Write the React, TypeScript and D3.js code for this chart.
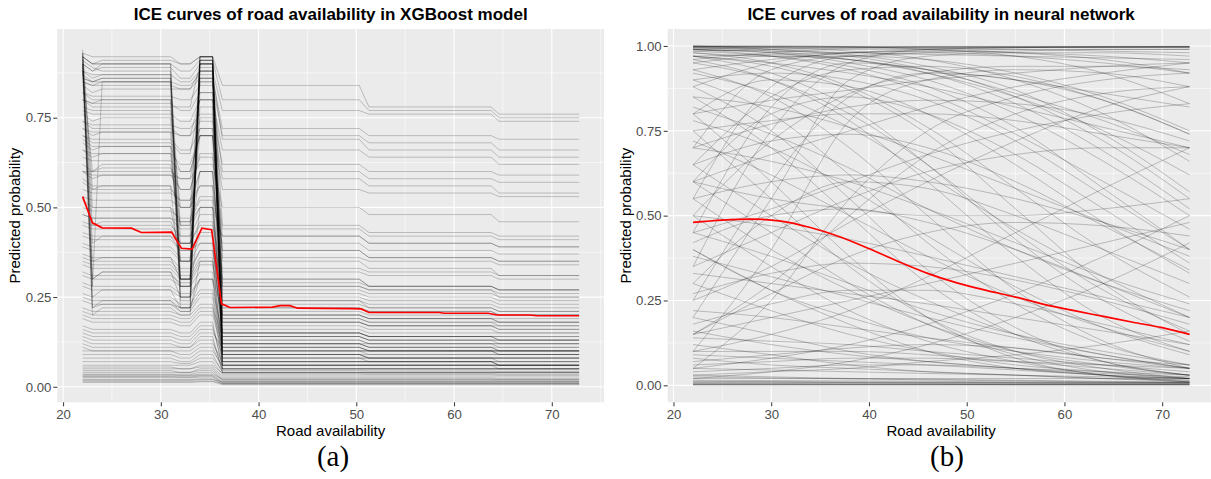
import React, { useEffect, useRef } from 'react';
import * as d3 from 'd3';

const W = 1211;
const H = 479;

// ---- panel (a): XGBoost ICE curves ----
// x positions where the step curves change, and which value column holds there
const xgbBreaks = [22, 23, 24, 31, 32, 33, 34, 35.3, 36.3, 50.3, 51.3, 63.8, 64.6, 72.8];
const xgbColumn = [0, 1, 2, 2, 3, 3, 4, 4, 5, 5, 6, 6, 7, 7];

// each row: [at 22, at 23, 24-31, 32-33, 34-35.3, 36.3-50.3, 51.3-63.8, 64.6-72.8]
const xgbCurves = [
  [0.93, 0.25, 0.27, 0.22, 0.9, 0.12, 0.11, 0.1],
  [0.91, 0.35, 0.36, 0.3, 0.88, 0.2, 0.19, 0.18],
  [0.92, 0.2, 0.22, 0.2, 0.91, 0.08, 0.07, 0.07],
  [0.9, 0.45, 0.46, 0.4, 0.6, 0.3, 0.28, 0.27],
  [0.89, 0.3, 0.32, 0.25, 0.5, 0.15, 0.14, 0.13],
  [0.94, 0.55, 0.56, 0.3, 0.92, 0.25, 0.24, 0.23],
  [0.92, 0.22, 0.24, 0.21, 0.35, 0.1, 0.09, 0.09],
  [0.88, 0.6, 0.62, 0.45, 0.7, 0.38, 0.36, 0.35],
  [0.93, 0.28, 0.85, 0.25, 0.92, 0.06, 0.06, 0.05],
  [0.9, 0.4, 0.42, 0.38, 0.4, 0.18, 0.17, 0.16],
  [0.9, 0.88, 0.9, 0.25, 0.92, 0.07, 0.07, 0.06],
  [0.88, 0.86, 0.87, 0.3, 0.9, 0.1, 0.1, 0.09],
  [0.85, 0.84, 0.85, 0.22, 0.89, 0.05, 0.05, 0.05],
  [0.82, 0.8, 0.8, 0.35, 0.88, 0.14, 0.13, 0.12],
  [0.8, 0.78, 0.78, 0.78, 0.9, 0.2, 0.19, 0.18],
  [0.76, 0.74, 0.75, 0.3, 0.85, 0.09, 0.08, 0.08],
  [0.92, 0.9, 0.91, 0.9, 0.92, 0.28, 0.27, 0.25],
  [0.72, 0.7, 0.71, 0.28, 0.82, 0.12, 0.11, 0.1],
  [0.7, 0.68, 0.68, 0.65, 0.8, 0.24, 0.22, 0.21],
  [0.86, 0.85, 0.86, 0.45, 0.91, 0.35, 0.33, 0.31],
  [0.66, 0.64, 0.65, 0.4, 0.75, 0.17, 0.16, 0.15],
  [0.62, 0.6, 0.6, 0.58, 0.72, 0.3, 0.28, 0.27],
  [0.9, 0.88, 0.89, 0.86, 0.9, 0.45, 0.43, 0.42],
  [0.78, 0.77, 0.77, 0.5, 0.86, 0.04, 0.04, 0.04],
  [0.58, 0.56, 0.56, 0.5, 0.6, 0.22, 0.21, 0.2],
  [0.55, 0.54, 0.54, 0.52, 0.56, 0.33, 0.32, 0.31],
  [0.52, 0.5, 0.5, 0.46, 0.52, 0.15, 0.14, 0.14],
  [0.48, 0.47, 0.47, 0.44, 0.5, 0.26, 0.25, 0.24],
  [0.45, 0.44, 0.44, 0.4, 0.46, 0.19, 0.18, 0.17],
  [0.42, 0.41, 0.41, 0.38, 0.43, 0.11, 0.1, 0.1],
  [0.4, 0.39, 0.39, 0.36, 0.42, 0.29, 0.28, 0.27],
  [0.37, 0.36, 0.36, 0.33, 0.38, 0.16, 0.15, 0.15],
  [0.34, 0.33, 0.33, 0.3, 0.35, 0.2, 0.19, 0.19],
  [0.31, 0.3, 0.3, 0.28, 0.32, 0.08, 0.08, 0.07],
  [0.28, 0.27, 0.27, 0.25, 0.3, 0.13, 0.12, 0.12],
  [0.25, 0.24, 0.24, 0.22, 0.26, 0.1, 0.1, 0.09],
  [0.22, 0.21, 0.21, 0.2, 0.23, 0.06, 0.06, 0.06],
  [0.2, 0.19, 0.19, 0.18, 0.21, 0.12, 0.11, 0.11],
  [0.17, 0.16, 0.16, 0.15, 0.18, 0.05, 0.05, 0.05],
  [0.15, 0.14, 0.14, 0.13, 0.16, 0.09, 0.08, 0.08],
  [0.13, 0.12, 0.12, 0.11, 0.14, 0.04, 0.04, 0.04],
  [0.11, 0.1, 0.1, 0.1, 0.12, 0.07, 0.07, 0.06],
  [0.6, 0.6, 0.61, 0.55, 0.65, 0.42, 0.4, 0.39],
  [0.68, 0.66, 0.67, 0.6, 0.7, 0.36, 0.35, 0.34],
  [0.5, 0.49, 0.49, 0.47, 0.53, 0.4, 0.38, 0.37],
  [0.36, 0.35, 0.35, 0.32, 0.38, 0.24, 0.23, 0.22],
  [0.08, 0.08, 0.08, 0.07, 0.09, 0.04, 0.04, 0.04],
  [0.06, 0.06, 0.06, 0.06, 0.07, 0.035, 0.034, 0.033],
  [0.05, 0.05, 0.05, 0.05, 0.055, 0.03, 0.03, 0.03],
  [0.045, 0.045, 0.045, 0.04, 0.05, 0.025, 0.025, 0.024],
  [0.04, 0.04, 0.04, 0.04, 0.045, 0.02, 0.02, 0.02],
  [0.035, 0.035, 0.035, 0.035, 0.04, 0.018, 0.018, 0.017],
  [0.03, 0.03, 0.03, 0.03, 0.032, 0.015, 0.015, 0.015],
  [0.028, 0.028, 0.028, 0.027, 0.03, 0.012, 0.012, 0.012],
  [0.025, 0.025, 0.025, 0.025, 0.027, 0.01, 0.01, 0.01],
  [0.02, 0.02, 0.02, 0.02, 0.022, 0.008, 0.008, 0.008],
  [0.012, 0.012, 0.012, 0.012, 0.014, 0.006, 0.006, 0.006],
  [0.1, 0.1, 0.1, 0.09, 0.11, 0.05, 0.05, 0.05],
  [0.93, 0.92, 0.92, 0.9, 0.92, 0.84, 0.78, 0.76],
  [0.92, 0.9, 0.9, 0.88, 0.91, 0.8, 0.77, 0.75],
  [0.88, 0.87, 0.87, 0.85, 0.88, 0.77, 0.76, 0.74],
  [0.85, 0.84, 0.84, 0.83, 0.86, 0.72, 0.7, 0.69],
  [0.82, 0.81, 0.81, 0.8, 0.84, 0.7, 0.68, 0.66],
  [0.74, 0.73, 0.73, 0.72, 0.76, 0.62, 0.6, 0.59],
  [0.7, 0.69, 0.69, 0.66, 0.72, 0.55, 0.54, 0.53],
  [0.8, 0.79, 0.79, 0.77, 0.82, 0.6, 0.58, 0.57],
  [0.6, 0.59, 0.59, 0.58, 0.62, 0.5, 0.48, 0.46],
  [0.92, 0.9, 0.9, 0.3, 0.92, 0.15, 0.14, 0.13],
  [0.91, 0.89, 0.88, 0.24, 0.91, 0.09, 0.08, 0.08],
  [0.87, 0.85, 0.86, 0.28, 0.9, 0.06, 0.06, 0.06],
  [0.84, 0.82, 0.83, 0.83, 0.88, 0.18, 0.17, 0.16],
  [0.9, 0.3, 0.32, 0.28, 0.9, 0.11, 0.1, 0.1],
  [0.93, 0.5, 0.5, 0.35, 0.85, 0.22, 0.21, 0.2],
  [0.88, 0.22, 0.23, 0.22, 0.3, 0.07, 0.07, 0.06],
  [0.8, 0.79, 0.8, 0.42, 0.86, 0.27, 0.26, 0.25],
  [0.74, 0.72, 0.72, 0.7, 0.8, 0.13, 0.12, 0.12],
  [0.69, 0.67, 0.67, 0.35, 0.78, 0.19, 0.18, 0.18],
  [0.64, 0.63, 0.63, 0.6, 0.7, 0.08, 0.08, 0.08],
  [0.57, 0.55, 0.55, 0.52, 0.6, 0.28, 0.27, 0.26],
  [0.53, 0.52, 0.52, 0.5, 0.56, 0.12, 0.12, 0.11],
  [0.46, 0.45, 0.45, 0.42, 0.48, 0.23, 0.22, 0.21],
  [0.43, 0.42, 0.42, 0.4, 0.45, 0.32, 0.31, 0.3],
  [0.39, 0.38, 0.38, 0.35, 0.4, 0.14, 0.13, 0.13],
  [0.35, 0.34, 0.34, 0.31, 0.36, 0.09, 0.09, 0.09],
  [0.32, 0.31, 0.31, 0.29, 0.34, 0.18, 0.17, 0.17],
  [0.29, 0.28, 0.28, 0.26, 0.3, 0.21, 0.2, 0.2],
  [0.26, 0.25, 0.25, 0.23, 0.27, 0.15, 0.14, 0.14],
  [0.24, 0.23, 0.23, 0.21, 0.25, 0.07, 0.07, 0.07],
  [0.21, 0.2, 0.2, 0.19, 0.22, 0.14, 0.13, 0.13],
  [0.19, 0.18, 0.18, 0.17, 0.2, 0.1, 0.1, 0.1],
  [0.16, 0.15, 0.15, 0.14, 0.17, 0.06, 0.06, 0.06],
  [0.14, 0.13, 0.13, 0.12, 0.15, 0.11, 0.1, 0.1],
  [0.12, 0.11, 0.11, 0.11, 0.13, 0.05, 0.05, 0.05],
  [0.09, 0.09, 0.09, 0.08, 0.1, 0.06, 0.06, 0.06],
  [0.07, 0.07, 0.07, 0.065, 0.08, 0.045, 0.044, 0.043],
  [0.055, 0.055, 0.055, 0.05, 0.06, 0.038, 0.037, 0.036],
  [0.033, 0.033, 0.033, 0.032, 0.035, 0.022, 0.022, 0.021],
  [0.018, 0.018, 0.018, 0.018, 0.02, 0.014, 0.014, 0.014],
  [0.015, 0.015, 0.015, 0.015, 0.016, 0.009, 0.009, 0.009],
  [0.6, 0.58, 0.59, 0.55, 0.64, 0.38, 0.36, 0.35],
  [0.66, 0.65, 0.65, 0.62, 0.7, 0.44, 0.42, 0.41],
  [0.77, 0.76, 0.76, 0.74, 0.8, 0.66, 0.64, 0.62],
  [0.86, 0.85, 0.85, 0.84, 0.87, 0.69, 0.66, 0.64],
  [0.48, 0.47, 0.47, 0.46, 0.5, 0.42, 0.4, 0.39],
  [0.72, 0.71, 0.71, 0.7, 0.74, 0.58, 0.56, 0.54],
];

// red average curve, panel (a)
const xgbMeanX = [22, 23, 24, 27, 28, 31.1, 32.1, 33.2, 34.2, 35.2, 36.2, 37.1, 41.4, 42.2, 43.2, 44, 49.6, 50.5, 51.3, 58.5, 59, 63.5, 64.4, 67.7, 68.5, 72.8];
const xgbMeanY = [0.53, 0.457, 0.443, 0.442, 0.43, 0.431, 0.386, 0.384, 0.442, 0.438, 0.231, 0.221, 0.222, 0.226, 0.226, 0.219, 0.218, 0.217, 0.207, 0.207, 0.205, 0.205, 0.2, 0.2, 0.198, 0.198];

// ---- panel (b): neural network ICE curves ----
const nnGrid = [22, 30, 38, 46, 55, 64, 72.8];
const nnCurves = [
  [0.998, 0.998, 0.997, 0.997, 0.996, 0.996, 0.995],
  [0.995, 0.996, 0.997, 0.998, 0.998, 0.998, 0.998],
  [0.99, 0.985, 0.98, 0.975, 0.97, 0.965, 0.96],
  [0.985, 0.99, 0.993, 0.995, 0.996, 0.996, 0.996],
  [0.97, 0.975, 0.98, 0.985, 0.99, 0.99, 0.99],
  [0.999, 0.999, 0.999, 0.999, 0.999, 0.999, 0.999],
  [0.992, 0.994, 0.995, 0.996, 0.997, 0.997, 0.997],
  [1, 0.99, 0.97, 0.93, 0.86, 0.78, 0.68],
  [0.99, 0.97, 0.93, 0.86, 0.74, 0.6, 0.46],
  [0.98, 0.95, 0.88, 0.76, 0.58, 0.4, 0.26],
  [0.97, 0.92, 0.82, 0.65, 0.43, 0.25, 0.13],
  [0.995, 0.985, 0.96, 0.92, 0.85, 0.75, 0.62],
  [0.96, 0.9, 0.78, 0.6, 0.38, 0.2, 0.1],
  [0.99, 0.98, 0.95, 0.9, 0.8, 0.66, 0.5],
  [0.35, 0.75, 0.95, 0.99, 0.995, 0.997, 0.998],
  [0.55, 0.88, 0.97, 0.98, 0.97, 0.95, 0.92],
  [0.2, 0.55, 0.9, 0.97, 0.98, 0.98, 0.97],
  [0.7, 0.93, 0.97, 0.96, 0.92, 0.85, 0.75],
  [0.45, 0.82, 0.95, 0.93, 0.85, 0.72, 0.55],
  [0.6, 0.8, 0.85, 0.8, 0.68, 0.52, 0.36],
  [0.8, 0.9, 0.88, 0.8, 0.65, 0.48, 0.33],
  [0.3, 0.5, 0.6, 0.58, 0.5, 0.4, 0.3],
  [0.85, 0.7, 0.5, 0.3, 0.15, 0.07, 0.03],
  [0.75, 0.55, 0.35, 0.2, 0.1, 0.05, 0.02],
  [0.65, 0.5, 0.36, 0.25, 0.15, 0.09, 0.05],
  [0.9, 0.8, 0.62, 0.42, 0.24, 0.12, 0.06],
  [0.55, 0.4, 0.28, 0.18, 0.1, 0.06, 0.03],
  [0.45, 0.38, 0.3, 0.22, 0.15, 0.1, 0.06],
  [0.4, 0.28, 0.18, 0.1, 0.05, 0.03, 0.01],
  [0.95, 0.9, 0.8, 0.65, 0.45, 0.28, 0.16],
  [0.7, 0.66, 0.6, 0.52, 0.42, 0.32, 0.24],
  [0.5, 0.47, 0.43, 0.38, 0.32, 0.26, 0.2],
  [0.1, 0.15, 0.22, 0.32, 0.45, 0.58, 0.7],
  [0.25, 0.35, 0.48, 0.6, 0.72, 0.82, 0.88],
  [0.05, 0.08, 0.12, 0.18, 0.27, 0.38, 0.5],
  [0.6, 0.68, 0.75, 0.82, 0.88, 0.92, 0.95],
  [0.15, 0.2, 0.25, 0.3, 0.36, 0.42, 0.48],
  [0.8, 0.84, 0.87, 0.9, 0.92, 0.94, 0.95],
  [0.02, 0.04, 0.07, 0.12, 0.2, 0.3, 0.42],
  [0.2, 0.15, 0.1, 0.07, 0.05, 0.03, 0.02],
  [0.12, 0.09, 0.06, 0.04, 0.03, 0.02, 0.01],
  [0.08, 0.06, 0.05, 0.04, 0.03, 0.02, 0.015],
  [0.03, 0.025, 0.02, 0.018, 0.015, 0.012, 0.01],
  [0.01, 0.01, 0.008, 0.007, 0.006, 0.005, 0.005],
  [0.005, 0.005, 0.004, 0.004, 0.003, 0.003, 0.003],
  [0.015, 0.014, 0.013, 0.012, 0.01, 0.009, 0.008],
  [0.3, 0.22, 0.15, 0.1, 0.06, 0.04, 0.02],
  [0.06, 0.07, 0.08, 0.08, 0.07, 0.06, 0.05],
  [0.002, 0.002, 0.002, 0.002, 0.002, 0.002, 0.002],
  [0.001, 0.001, 0.001, 0.001, 0.001, 0.001, 0.001],
  [0.04, 0.05, 0.06, 0.06, 0.05, 0.04, 0.03],
  [0.15, 0.27, 0.38, 0.45, 0.48, 0.47, 0.44],
  [0.4, 0.28, 0.2, 0.14, 0.1, 0.07, 0.05],
  [0.05, 0.25, 0.55, 0.75, 0.85, 0.9, 0.92],
  [0.82, 0.74, 0.64, 0.52, 0.4, 0.3, 0.22],
  [0.92, 0.86, 0.76, 0.62, 0.46, 0.32, 0.2],
  [0.99, 0.98, 0.96, 0.93, 0.9, 0.86, 0.82],
  [0.97, 0.95, 0.92, 0.88, 0.82, 0.76, 0.7],
  [0.75, 0.78, 0.8, 0.8, 0.78, 0.74, 0.7],
  [1, 1, 0.998, 0.99, 0.97, 0.92, 0.83],
  [0.999, 0.995, 0.985, 0.96, 0.9, 0.8, 0.66],
  [0.98, 0.97, 0.97, 0.98, 0.985, 0.99, 0.99],
  [0.93, 0.96, 0.98, 0.99, 0.995, 0.997, 0.998],
  [0.88, 0.95, 0.98, 0.985, 0.98, 0.97, 0.95],
  [0.996, 0.99, 0.975, 0.94, 0.87, 0.74, 0.57],
  [0.95, 0.97, 0.96, 0.92, 0.83, 0.69, 0.52],
  [0.985, 0.97, 0.94, 0.88, 0.76, 0.58, 0.4],
  [0.9, 0.92, 0.9, 0.84, 0.72, 0.56, 0.4],
  [0.65, 0.85, 0.93, 0.94, 0.91, 0.84, 0.74],
  [0.5, 0.72, 0.86, 0.92, 0.94, 0.94, 0.93],
  [0.25, 0.6, 0.85, 0.92, 0.9, 0.84, 0.74],
  [0.1, 0.4, 0.78, 0.9, 0.93, 0.92, 0.88],
  [0.15, 0.3, 0.5, 0.68, 0.8, 0.86, 0.88],
  [0.35, 0.45, 0.55, 0.63, 0.68, 0.7, 0.7],
  [0.72, 0.62, 0.5, 0.38, 0.26, 0.17, 0.1],
  [0.6, 0.45, 0.3, 0.18, 0.09, 0.04, 0.02],
  [0.88, 0.75, 0.55, 0.34, 0.17, 0.07, 0.03],
  [0.78, 0.7, 0.58, 0.44, 0.29, 0.17, 0.09],
  [0.97, 0.94, 0.87, 0.74, 0.52, 0.3, 0.15],
  [0.93, 0.85, 0.7, 0.5, 0.28, 0.13, 0.05],
  [0.8, 0.6, 0.38, 0.2, 0.08, 0.03, 0.01],
  [0.5, 0.35, 0.22, 0.13, 0.07, 0.03, 0.015],
  [0.33, 0.3, 0.27, 0.24, 0.2, 0.16, 0.12],
  [0.27, 0.33, 0.36, 0.35, 0.31, 0.25, 0.18],
  [0.18, 0.24, 0.28, 0.28, 0.24, 0.18, 0.12],
  [0.42, 0.5, 0.52, 0.48, 0.4, 0.3, 0.2],
  [0.55, 0.6, 0.62, 0.6, 0.55, 0.48, 0.4],
  [0.65, 0.72, 0.74, 0.7, 0.6, 0.47, 0.34],
  [0.85, 0.82, 0.76, 0.68, 0.58, 0.48, 0.38],
  [0.6, 0.55, 0.52, 0.5, 0.5, 0.52, 0.55],
  [0.45, 0.52, 0.6, 0.68, 0.75, 0.8, 0.83],
  [0.22, 0.2, 0.17, 0.14, 0.11, 0.08, 0.06],
  [0.14, 0.13, 0.12, 0.1, 0.08, 0.06, 0.04],
  [0.1, 0.1, 0.1, 0.09, 0.07, 0.05, 0.03],
  [0.07, 0.09, 0.11, 0.12, 0.11, 0.08, 0.05],
  [0.03, 0.04, 0.05, 0.07, 0.09, 0.12, 0.16],
  [0.02, 0.02, 0.02, 0.02, 0.02, 0.02, 0.02],
  [0.008, 0.008, 0.008, 0.008, 0.008, 0.008, 0.008],
  [0.004, 0.004, 0.004, 0.004, 0.004, 0.004, 0.004],
  [0.003, 0.003, 0.003, 0.003, 0.002, 0.002, 0.002],
  [0.012, 0.011, 0.01, 0.009, 0.008, 0.007, 0.006],
  [0.025, 0.022, 0.019, 0.016, 0.013, 0.01, 0.008],
  [0.05, 0.045, 0.04, 0.035, 0.03, 0.025, 0.02],
  [0.09, 0.08, 0.07, 0.06, 0.045, 0.03, 0.02],
  [0.38, 0.32, 0.26, 0.2, 0.14, 0.09, 0.05],
  [0.16, 0.12, 0.09, 0.07, 0.05, 0.035, 0.025],
  [0.7, 0.77, 0.82, 0.84, 0.83, 0.79, 0.72],
  [0.96, 0.98, 0.99, 0.99, 0.98, 0.96, 0.92],
  [0.999, 0.998, 0.996, 0.993, 0.99, 0.985, 0.98],
];

// red average curve, panel (b)
const nnMeanX = [22, 25, 28, 31, 34, 37, 40, 43, 46, 49, 52, 55, 58, 61, 64, 67, 70, 72.8];
const nnMeanY = [0.48, 0.487, 0.49, 0.484, 0.465, 0.438, 0.403, 0.365, 0.33, 0.302, 0.28, 0.26, 0.238, 0.22, 0.203, 0.186, 0.17, 0.15];

const xTicks = [20, 30, 40, 50, 60, 70];
const xMinor = [25, 35, 45, 55, 65, 75];
const yTicksA = [0, 0.25, 0.5, 0.75];
const yTicksB = [0, 0.25, 0.5, 0.75, 1];
const yMinor = [0.125, 0.375, 0.625, 0.875];

const titles = ['ICE curves of road availability in XGBoost model', 'ICE curves of road availability in neural network'];
const tags = ['(a)', '(b)'];

const expand = (lo: number, hi: number) => [lo - (hi - lo) * 0.05, hi + (hi - lo) * 0.05];

const App = () => {
  const ref = useRef<SVGSVGElement>(null);

  useEffect(() => {
    const svg = d3.select(ref.current);
    svg.selectAll('*').remove();

    const top = 29, bottom = 402.3, pw = 546.7;
    const panels = [
      {
        left: 57.3,
        yDom: expand(0.004, 0.95),
        yTicks: yTicksA,
        lines: xgbCurves.map(row => xgbBreaks.map((x, k) => [x, row[xgbColumn[k]]] as [number, number])),
        mean: xgbMeanX.map((x, i) => [x, xgbMeanY[i]] as [number, number]),
        curve: d3.curveLinear,
        alpha: 0.24,
        width: 0.9,
        title: titles[0],
        tag: tags[0],
        tagX: 333,
      },
      {
        left: 667.7,
        yDom: expand(0, 1),
        yTicks: yTicksB,
        lines: nnCurves.map(row => nnGrid.map((x, k) => [x, row[k]] as [number, number])),
        mean: nnMeanX.map((x, i) => [x, nnMeanY[i]] as [number, number]),
        curve: d3.curveMonotoneX,
        alpha: 0.22,
        width: 1,
        title: titles[1],
        tag: tags[1],
        tagX: 947,
      },
    ];

    panels.forEach(p => {
      const x = d3.scaleLinear().domain(expand(21.95, 72.8)).range([p.left, p.left + pw]);
      const y = d3.scaleLinear().domain(p.yDom).range([bottom, top]);
      const g = svg.append('g');

      g.append('rect')
        .attr('x', p.left).attr('y', top)
        .attr('width', pw).attr('height', bottom - top)
        .attr('fill', '#EBEBEB');

      // grid
      const inX = (v: number) => x(v) >= p.left && x(v) <= p.left + pw;
      const inY = (v: number) => y(v) >= top && y(v) <= bottom;
      g.selectAll('.gxm').data(xMinor.filter(inX)).enter().append('line')
        .attr('x1', d => x(d)).attr('x2', d => x(d)).attr('y1', top).attr('y2', bottom)
        .attr('stroke', '#fff').attr('stroke-width', 0.55);
      g.selectAll('.gym').data(yMinor.filter(inY)).enter().append('line')
        .attr('x1', p.left).attr('x2', p.left + pw).attr('y1', d => y(d)).attr('y2', d => y(d))
        .attr('stroke', '#fff').attr('stroke-width', 0.55);
      g.selectAll('.gx').data(xTicks).enter().append('line')
        .attr('x1', d => x(d)).attr('x2', d => x(d)).attr('y1', top).attr('y2', bottom)
        .attr('stroke', '#fff').attr('stroke-width', 1.1);
      g.selectAll('.gy').data(p.yTicks).enter().append('line')
        .attr('x1', p.left).attr('x2', p.left + pw).attr('y1', d => y(d)).attr('y2', d => y(d))
        .attr('stroke', '#fff').attr('stroke-width', 1.1);

      const line = d3.line<[number, number]>()
        .x(d => x(d[0]))
        .y(d => y(d[1]))
        .curve(p.curve);

      g.append('g').selectAll('path').data(p.lines).enter().append('path')
        .attr('d', d => line(d))
        .attr('fill', 'none')
        .attr('stroke', '#000')
        .attr('stroke-opacity', p.alpha)
        .attr('stroke-width', p.width);

      g.append('path')
        .attr('d', line(p.mean))
        .attr('fill', 'none')
        .attr('stroke', '#FF0000')
        .attr('stroke-width', 1.7);

      // axes
      const xa = g.append('g').attr('transform', `translate(0,${bottom})`)
        .call(d3.axisBottom(x).tickValues(xTicks).tickSize(4).tickPadding(3).tickFormat(d3.format('d')));
      const ya = g.append('g').attr('transform', `translate(${p.left},0)`)
        .call(d3.axisLeft(y).tickValues(p.yTicks).tickSize(4).tickPadding(2).tickFormat(d3.format('.2f')));
      [xa, ya].forEach(a => {
        a.select('.domain').remove();
        a.selectAll('line').attr('stroke', '#333');
        a.selectAll('text').attr('fill', '#4D4D4D')
          .style('font-family', 'Liberation Sans, Arial, sans-serif').style('font-size', '13.2px');
      });

      const cx = p.left + pw / 2;
      g.append('text').attr('x', cx).attr('y', 20).attr('text-anchor', 'middle')
        .style('font-family', 'Liberation Sans, Arial, sans-serif').style('font-size', '17px')
        .style('font-weight', 'bold').text(p.title);
      g.append('text').attr('x', x(47.375)).attr('y', 435.5).attr('text-anchor', 'middle')
        .style('font-family', 'Liberation Sans, Arial, sans-serif').style('font-size', '15px')
        .text('Road availability');
      g.append('text')
        .attr('transform', `translate(${p.left - 37},${(top + bottom) / 2}) rotate(-90)`)
        .attr('text-anchor', 'middle')
        .style('font-family', 'Liberation Sans, Arial, sans-serif').style('font-size', '15px')
        .text('Predicted probability');
      g.append('text').attr('x', p.tagX).attr('y', 466).attr('text-anchor', 'middle')
        .style('font-family', 'Liberation Serif, serif').style('font-size', '29px')
        .text(p.tag);
    });
  }, []);

  return (
    <div style={{ position: 'absolute', left: 0, top: 0 }}>
      <svg ref={ref} width={W} height={H} style={{ display: 'block', background: '#fff' }} />
    </div>
  );
};

export default App;
